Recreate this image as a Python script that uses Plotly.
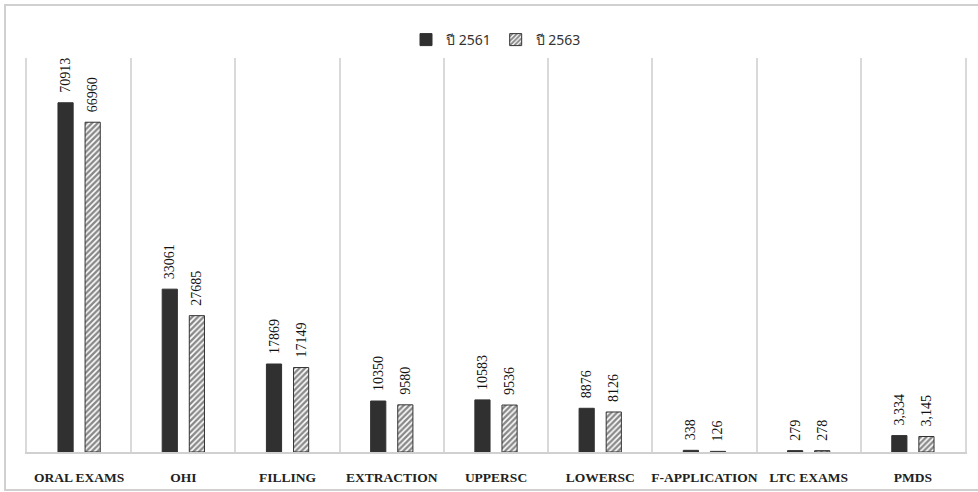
import plotly.graph_objects as go

categories = ["ORAL EXAMS", "OHI", "FILLING", "EXTRACTION", "UPPERSC",
              "LOWERSC", "F-APPLICATION", "LTC EXAMS", "PMDS"]
y2561 = [70913, 33061, 17869, 10350, 10583, 8876, 338, 279, 3334]
y2563 = [66960, 27685, 17149, 9580, 9536, 8126, 126, 278, 3145]
comma_cats = ["PMDS"]

def labels(vals):
    return ["\u00a0\u00a0" + (f"{v:,}" if c in comma_cats else str(v))
            for c, v in zip(categories, vals)]

W, H = 978, 492
L, R, T, B = 27, 13, 58, 40
pw, ph = W - L - R, H - T - B

fig = go.Figure()
fig.add_trace(go.Bar(
    x=categories, y=y2561, name="ปี 2561",
    marker=dict(color="#303030", line=dict(color="#303030", width=1)),
    text=labels(y2561), textposition="outside", textangle=-90, constraintext="none",
    textfont=dict(family="Liberation Serif", size=14, color="#111"),
    cliponaxis=False,
))
fig.add_trace(go.Bar(
    x=categories, y=y2563, name="ปี 2563",
    marker=dict(color="white", line=dict(color="#333", width=1),
                pattern=dict(shape="/", fgcolor="#111", bgcolor="white",
                             size=4, solidity=0.6)),
    text=labels(y2563), textposition="outside", textangle=-90, constraintext="none",
    textfont=dict(family="Liberation Serif", size=14, color="#111"),
    cliponaxis=False,
))

# outer frame
fig.add_shape(type="rect", xref="paper", yref="paper",
              x0=(5 - L) / pw, x1=(990 - L) / pw,
              y0=-(490 - (H - B)) / ph,
              y1=((H - B) - 5) / ph,
              line=dict(color="#d0d0d0", width=2), fillcolor="rgba(0,0,0,0)", layer="below")

fig.update_layout(
    width=W, height=H,
    margin=dict(l=L, r=R, t=T, b=B, autoexpand=False),
    paper_bgcolor="white", plot_bgcolor="white",
    barmode="group", bargap=0.48, bargroupgap=0.44,
    showlegend=True,
    legend=dict(orientation="h", x=0.5, xanchor="center", y=(H - B - 40) / ph,
                yanchor="middle", font=dict(family="Noto Sans, sans-serif",
                                            size=14, color="#333"),
                itemwidth=30, traceorder="normal"),
    xaxis=dict(tickson="boundaries", showgrid=True, gridcolor="#d9d9d9", gridwidth=1.5,
               showline=True, linecolor="#d0d0d0", linewidth=1.5,
               ticks="", ticklabelstandoff=12, tickangle=0, automargin=False,
               tickfont=dict(family="Liberation Serif", size=13.5, color="#222", weight="bold")),
    yaxis=dict(range=[0, 80000], showgrid=False, showticklabels=False, zeroline=False,
               showline=True, mirror=True, linecolor="#d9d9d9", linewidth=1.5,
               automargin=False),
    font=dict(family="Liberation Serif"),
)

fig.write_html("out.html")
